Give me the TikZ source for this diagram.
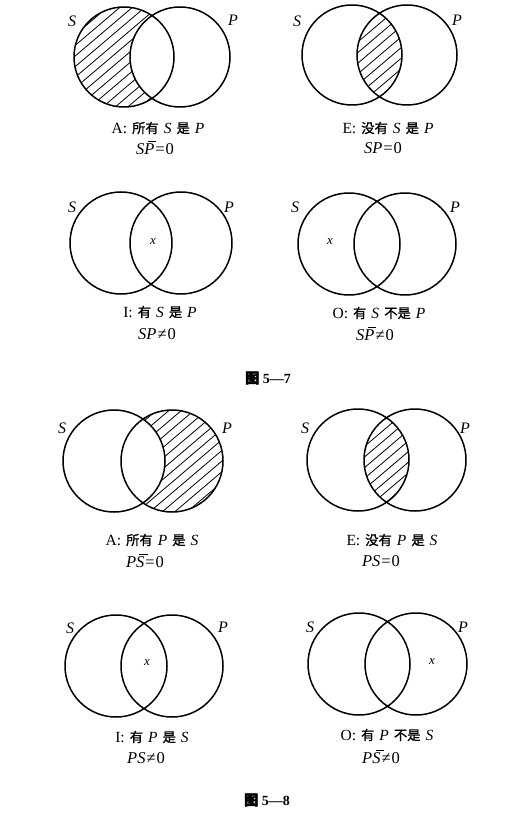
\documentclass[tikz,border=0pt]{standalone}
\usepackage{fontspec}
\setmainfont{Liberation Serif}
\newfontfamily\cjk[FakeBold=1.2,Scale=0.86]{Noto Sans CJK SC}
\newfontfamily\cjkb[FakeBold=2.5]{Noto Sans CJK SC}
\newcommand\hatchat[2]{%
  \foreach \k in {-11,...,11} {\draw[hatchline] ({#1+\k*12.5-80},{#2+68}) -- ({#1+\k*12.5+80},{#2-68});}}
\newcommand\ovl[1]{\makebox[0pt][l]{\hspace{0.2em}\raisebox{0.74em}{\rule{0.5em}{0.06em}}}\textit{#1}}
\newcommand\sep{\hspace{5pt}}
\newcommand\eqs[1]{\hspace{1pt}#1\hspace{1pt}}
\begin{document}
\begin{tikzpicture}[x=1pt,y=-1pt,
  ring/.style={line width=1.5pt},
  hatchline/.style={line width=0.8pt},
  lbl/.style={font=\fontsize{16}{18}\selectfont\itshape, inner sep=0pt},
  captxt/.style={font=\fontsize{15.5}{17}\selectfont, inner sep=0pt},
  frm/.style={font=\fontsize{16.5}{18}\selectfont, inner sep=0pt},
  xmark/.style={font=\fontsize{13}{14}\selectfont\itshape, inner sep=0pt},
  figlbl/.style={font=\fontsize{14}{16}\selectfont\bfseries, inner sep=0pt}]
\fill[white] (0,0) rectangle (514,821);
\useasboundingbox (0,0) rectangle (514,821);

% ---------- Panel 1: A, S-P hatched
\begin{scope}
  \clip (124,57) circle (50pt);
  \begin{scope}[even odd rule]
    \clip (180,57) circle (50pt) (0,0) rectangle (514,821);
    \hatchat{124}{57}
  \end{scope}
\end{scope}
\draw[ring] (124,57) circle (50pt) (180,57) circle (50pt);
\node[lbl] (s1) at (72,21) {S};
\node[lbl] (p1) at (233,20) {P};
\node[captxt] (c1) at (158,128) {A:\sep{\cjk 所有}\sep\textit{S}\sep{\cjk 是}\sep\textit{P}};
\node[frm] (f1) at (155,148) {\textit{S}\ovl{P}\eqs{=}0};

% ---------- Panel 2: E, SP hatched
\begin{scope}
  \clip (352,55) circle (50pt);
  \clip (407,55) circle (50pt);
  \hatchat{380}{55}
\end{scope}
\draw[ring] (352,55) circle (50pt) (407,55) circle (50pt);
\node[lbl] (s2) at (297,21) {S};
\node[lbl] (p2) at (457,20) {P};
\node[captxt] (c2) at (388,128) {E:\sep{\cjk 没有}\sep\textit{S}\sep{\cjk 是}\sep\textit{P}};
\node[frm] (f2) at (383,148) {\textit{SP}\eqs{=}0};

% ---------- Panel 3: I
\draw[ring] (121,243) circle (51pt) (181,243) circle (51pt);
\node[lbl] (s3) at (72,207) {S};
\node[lbl] (p3) at (229,207) {P};
\node[xmark] (x3) at (153,242) {x};
\node[captxt] (c3) at (160,312) {I:\sep{\cjk 有}\sep\textit{S}\sep{\cjk 是}\sep\textit{P}};
\node[frm] (f3) at (157,334) {\textit{SP}\eqs{≠}0};

% ---------- Panel 4: O
\draw[ring] (349,244) circle (51pt) (405,244) circle (51pt);
\node[lbl] (s4) at (295,207) {S};
\node[lbl] (p4) at (455,207) {P};
\node[xmark] (x4) at (330,242) {x};
\node[captxt] (c4) at (379,313) {O:\sep{\cjk 有}\sep\textit{S}\sep{\cjk 不是}\sep\textit{P}};
\node[frm] (f4) at (375,334) {\textit{S}\ovl{P}\eqs{≠}0};

\node[figlbl] (fig7) at (268,378) {{\cjkb 图} 5—7};

% ---------- Panel 5: A, P-S hatched
\begin{scope}
  \clip (172,461) circle (51pt);
  \begin{scope}[even odd rule]
    \clip (114,461) circle (51pt) (0,0) rectangle (514,821);
    \hatchat{172}{461}
  \end{scope}
\end{scope}
\draw[ring] (114,461) circle (51pt) (172,461) circle (51pt);
\node[lbl] (s5) at (62,428) {S};
\node[lbl] (p5) at (227,428) {P};
\node[captxt] (c5) at (152,540) {A:\sep{\cjk 所有}\sep\textit{P}\sep{\cjk 是}\sep\textit{S}};
\node[frm] (f5) at (145,561) {\textit{P}\ovl{S}\eqs{=}0};

% ---------- Panel 6: E, PS hatched
\begin{scope}
  \clip (358,460) circle (51pt);
  \clip (415,460) circle (51pt);
  \hatchat{386}{460}
\end{scope}
\draw[ring] (358,460) circle (51pt) (415,460) circle (51pt);
\node[lbl] (s6) at (305,428) {S};
\node[lbl] (p6) at (465,428) {P};
\node[captxt] (c6) at (392,540) {E:\sep{\cjk 没有}\sep\textit{P}\sep{\cjk 是}\sep\textit{S}};
\node[frm] (f6) at (381,561) {\textit{PS}\eqs{=}0};

% ---------- Panel 7: I
\draw[ring] (116,666) circle (51pt) (172,666) circle (51pt);
\node[lbl] (s7) at (70,628) {S};
\node[lbl] (p7) at (223,627) {P};
\node[xmark] (x7) at (147,663) {x};
\node[captxt] (c7) at (152,737) {I:\sep{\cjk 有}\sep\textit{P}\sep{\cjk 是}\sep\textit{S}};
\node[frm] (f7) at (146,758) {\textit{PS}\eqs{≠}0};

% ---------- Panel 8: O
\draw[ring] (359,664) circle (51pt) (416,664) circle (51pt);
\node[lbl] (s8) at (310,627) {S};
\node[lbl] (p8) at (463,627) {P};
\node[xmark] (x8) at (432,662) {x};
\node[captxt] (c8) at (387,735) {O:\sep{\cjk 有}\sep\textit{P}\sep{\cjk 不是}\sep\textit{S}};
\node[frm] (f8) at (381,757) {\textit{P}\ovl{S}\eqs{≠}0};

\node[figlbl] (fig8) at (267,800) {{\cjkb 图} 5—8};
\end{tikzpicture}
\end{document}
